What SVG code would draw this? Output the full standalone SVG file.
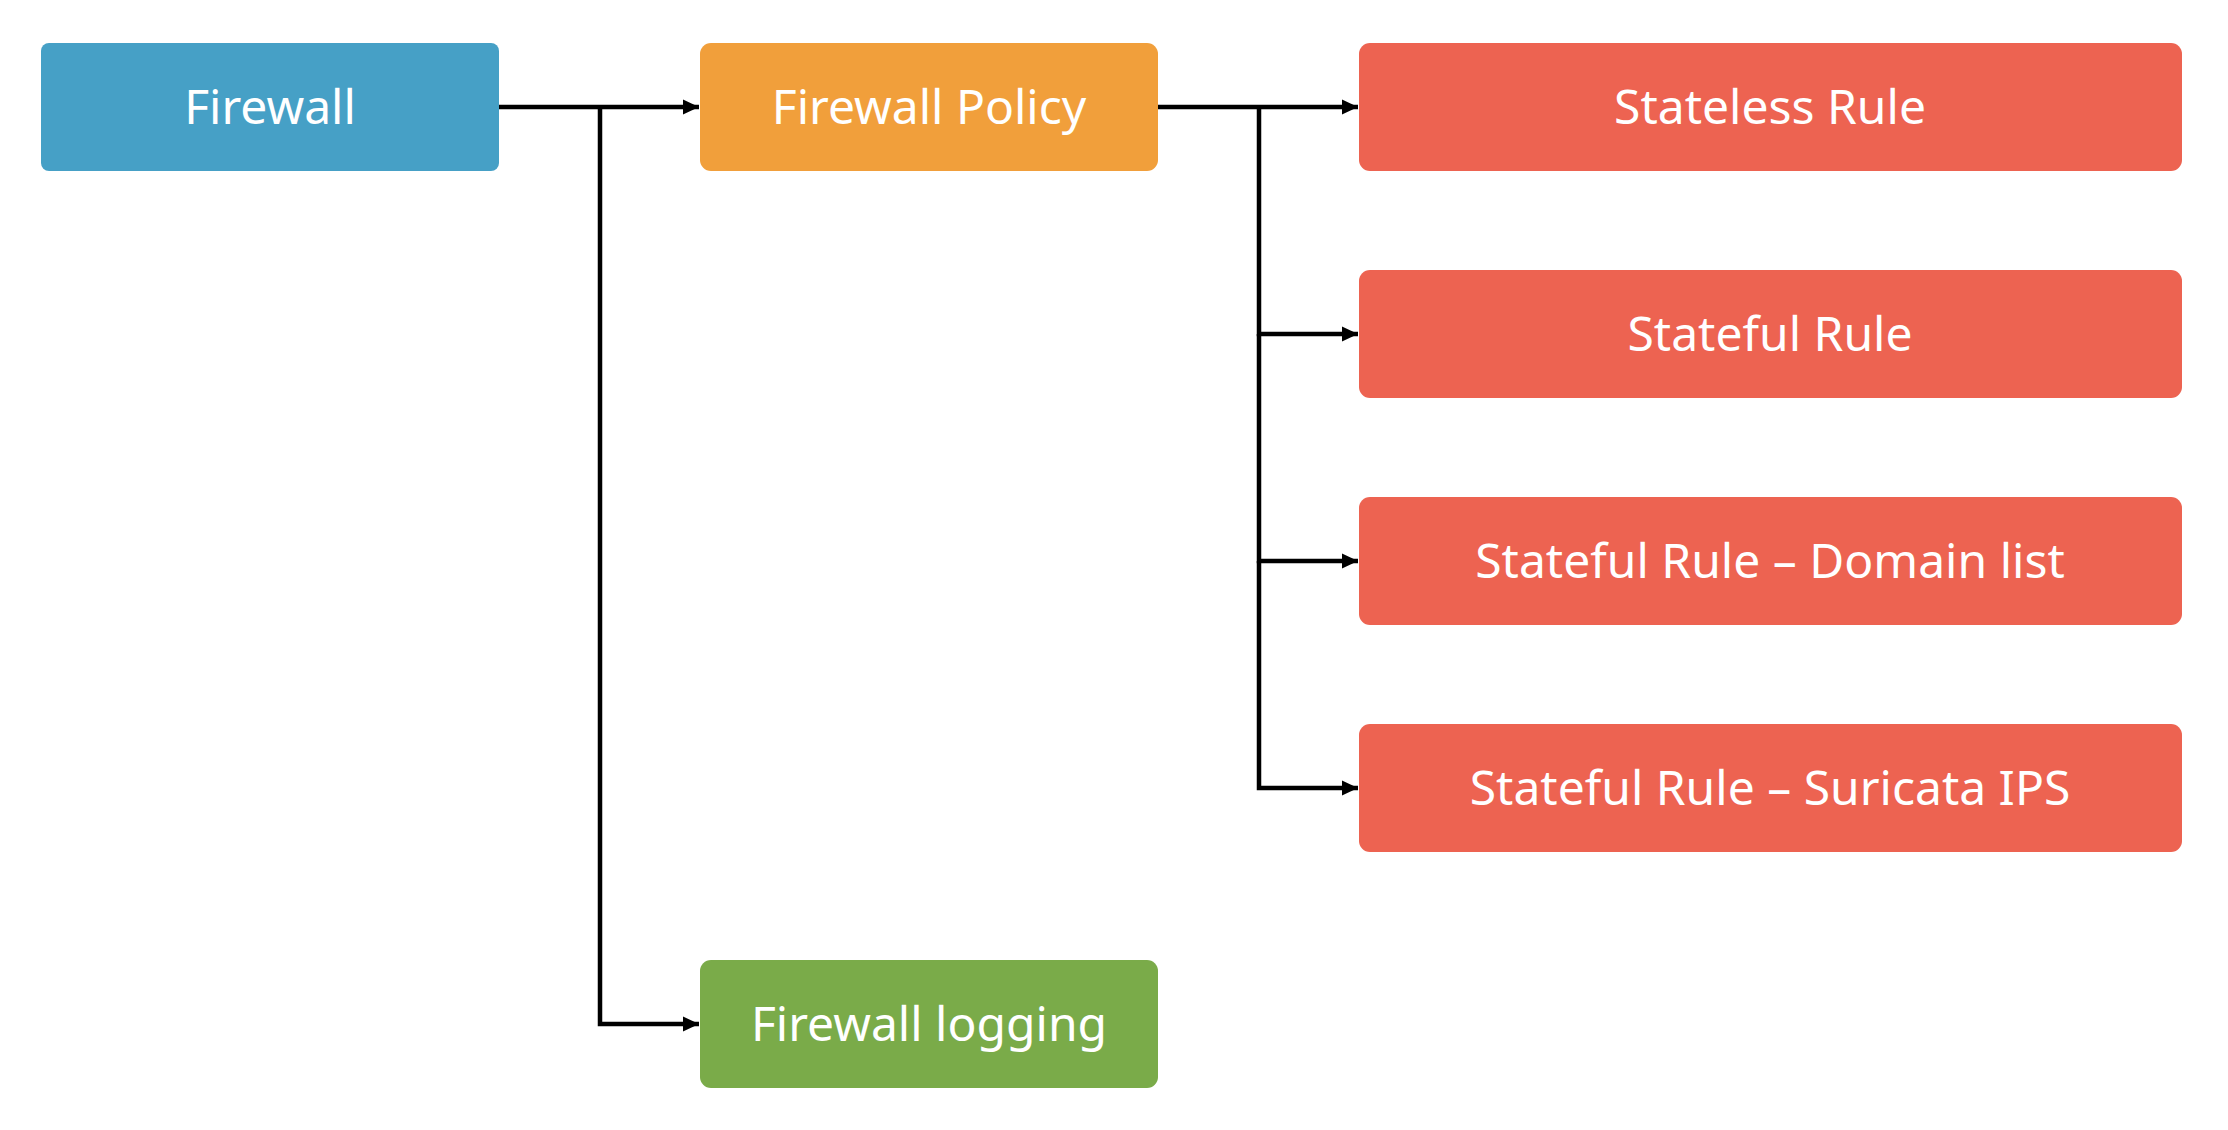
<svg xmlns="http://www.w3.org/2000/svg" width="2228" height="1130" viewBox="0 0 2228 1130">
  <style>
    .box { stroke: none; }
    .blue { fill: #46a0c6; }
    .orange { fill: #f19f3b; }
    .red { fill: #ed6351; }
    .green { fill: #7aab49; }
    .label { font-family: "Noto Sans", "Open Sans", sans-serif; font-size: 48px; fill: #ffffff; text-anchor: middle; }
    .conn { stroke: #000000; stroke-width: 4.5; fill: none; }
  </style>
  <defs>
    <marker id="arrow" markerUnits="userSpaceOnUse" markerWidth="16" markerHeight="16" viewBox="0 0 16 16" refX="16" refY="8" orient="auto">
      <path d="M0,0.5 L16,8 L0,15.5 z" fill="#000000"/>
    </marker>
  </defs>
  <rect width="2228" height="1130" fill="#ffffff"/>

  <g id="connectors">
    <path class="conn" d="M499,107 L699,107" marker-end="url(#arrow)"/>
    <path class="conn" d="M600,107 L600,1024 L699,1024" marker-end="url(#arrow)"/>
    <path class="conn" d="M1158,107 L1358,107" marker-end="url(#arrow)"/>
    <path class="conn" d="M1259,107 L1259,334 L1358,334" marker-end="url(#arrow)"/>
    <path class="conn" d="M1259,334 L1259,561 L1358,561" marker-end="url(#arrow)"/>
    <path class="conn" d="M1259,561 L1259,788 L1358,788" marker-end="url(#arrow)"/>
  </g>

  <g id="firewall">
    <rect class="box blue" x="41" y="43" width="458" height="128" rx="8"/>
    <text class="label" x="270" y="124">Firewall</text>
  </g>
  <g id="firewall-policy">
    <rect class="box orange" x="700" y="43" width="458" height="128" rx="11"/>
    <text class="label" x="929" y="124">Firewall Policy</text>
  </g>
  <g id="firewall-logging">
    <rect class="box green" x="700" y="960" width="458" height="128" rx="11"/>
    <text class="label" x="929" y="1041">Firewall logging</text>
  </g>
  <g id="stateless-rule">
    <rect class="box red" x="1359" y="43" width="823" height="128" rx="11"/>
    <text class="label" x="1770" y="124">Stateless Rule</text>
  </g>
  <g id="stateful-rule">
    <rect class="box red" x="1359" y="270" width="823" height="128" rx="11"/>
    <text class="label" x="1770" y="351">Stateful Rule</text>
  </g>
  <g id="stateful-rule-domain-list">
    <rect class="box red" x="1359" y="497" width="823" height="128" rx="11"/>
    <text class="label" x="1770" y="578">Stateful Rule – Domain list</text>
  </g>
  <g id="stateful-rule-suricata-ips">
    <rect class="box red" x="1359" y="724" width="823" height="128" rx="11"/>
    <text class="label" x="1770" y="805">Stateful Rule – Suricata IPS</text>
  </g>
</svg>
